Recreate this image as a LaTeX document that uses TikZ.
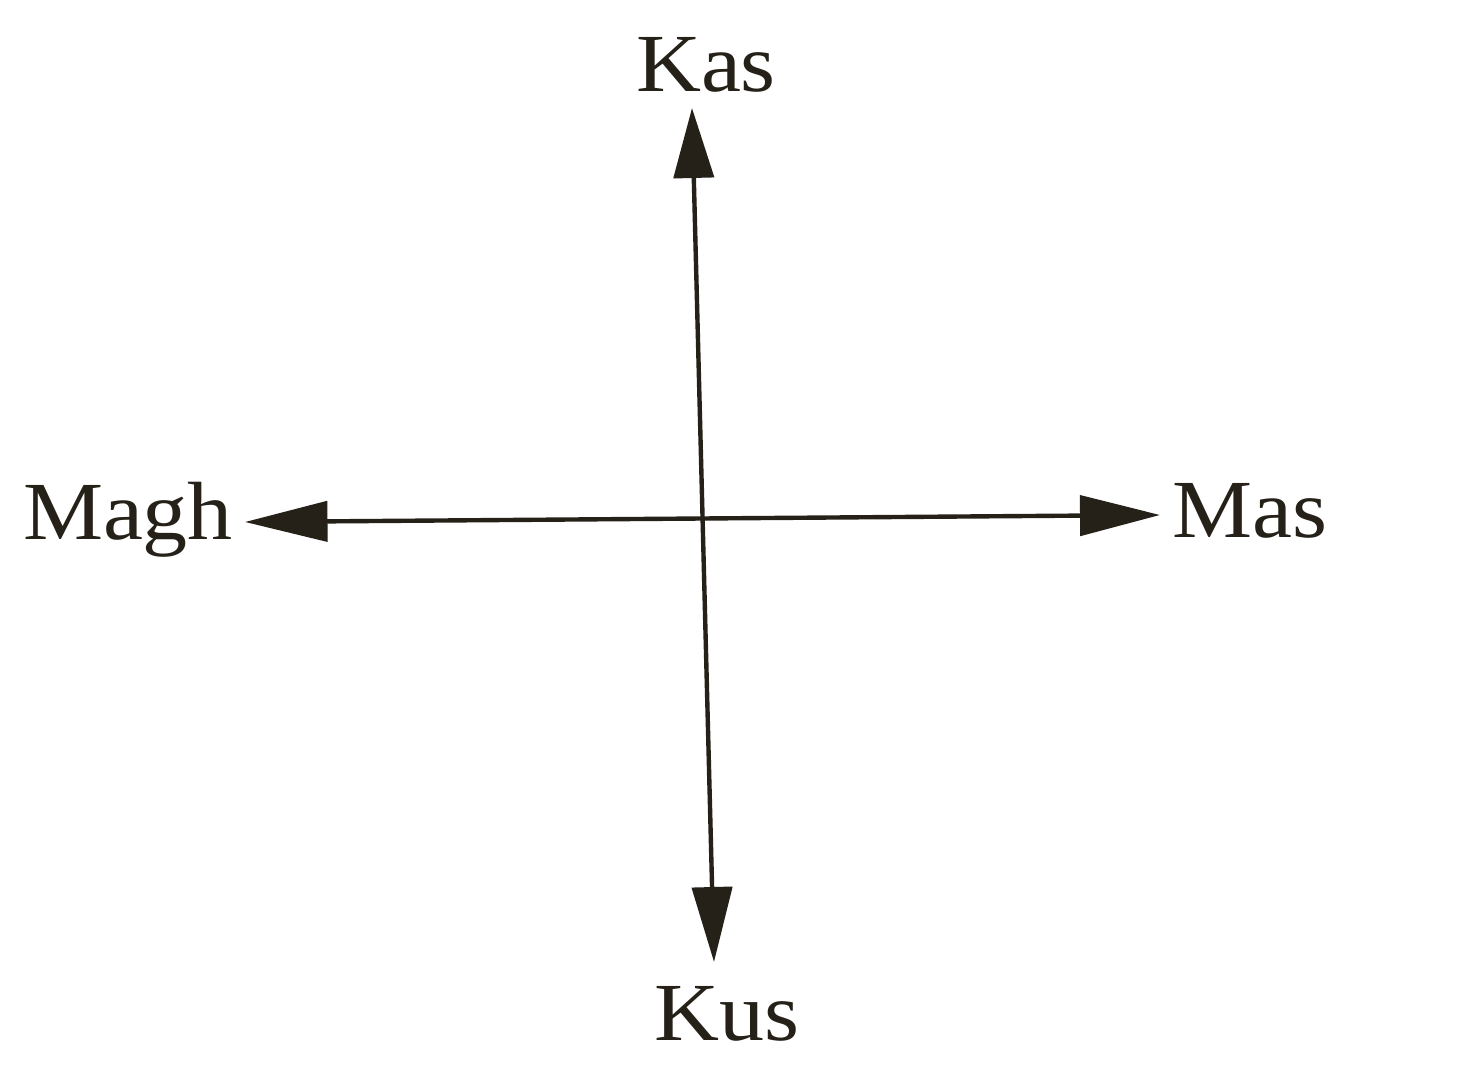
\documentclass[tikz,border=0pt]{standalone}
\usepackage{fontspec}
\setmainfont{Liberation Serif}
\usetikzlibrary{arrows.meta}
\definecolor{ink}{RGB}{38,33,24}
\begin{document}
\begin{tikzpicture}[x=0.02cm,y=-0.02cm,
  lbl/.style={text=ink,inner sep=0pt,anchor=base,xscale=1.09,font=\fontsize{47}{56}\selectfont},
  axisv/.style={draw=ink,line width=2.5pt,{Triangle[length=1.4cm,width=0.8cm]}-{Triangle[length=1.5cm,width=0.8cm]}},
  axish/.style={draw=ink,line width=2.5pt,{Triangle[length=1.65cm,width=0.8cm]}-{Triangle[length=1.6cm,width=0.8cm]}}]
\useasboundingbox[fill=white] (0,0) rectangle (1472,1084);
\node[lbl] (kas) at (706,92) {Kas};
\node[lbl] (kus) at (727,1040) {Kus};
\node[lbl] (magh) at (128,540) {Magh};
\node[lbl] (mas) at (1250,538) {Mas};
\coordinate (top) at (692,108);
\coordinate (bot) at (714,962);
\coordinate (left) at (245,522);
\coordinate (right) at (1160,515);
\draw[axisv] (top) -- (bot);
\draw[axish] (left) -- (right);
\end{tikzpicture}
\end{document}
